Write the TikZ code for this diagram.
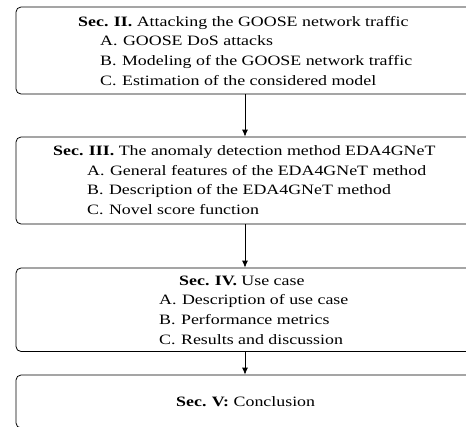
\documentclass[tikz,border=0pt]{standalone}
\usepackage{fontspec}
\setmainfont{Liberation Serif}[FakeStretch=1.25]
\usetikzlibrary{arrows.meta}
\tikzset{
  secbox/.style={draw=black, line width=0.8pt, rounded corners=5pt, minimum width=458pt, inner sep=0pt},
  txt/.style={anchor=base west, inner sep=0pt, font=\fontsize{14.3}{19.6}\selectfont},
  arr/.style={draw=black, line width=0.8pt, -{Latex[length=7pt,width=6pt]}}
}
\newcommand{\hd}[2]{\textbf{Sec.}\hspace{5.5pt}\textbf{#1}#2}
\newcommand{\itm}[2]{#1\hspace{5.5pt}#2}
\begin{document}
\begin{tikzpicture}[x=1pt,y=-1pt]
\clip (0,0) rectangle (466,426);
% boxes
\node[secbox, minimum height=87pt] (b1) at (245,50.5) {};
\node[secbox, minimum height=87pt] (b2) at (245,180.5) {};
\node[secbox, minimum height=83.5pt] (b3) at (245,309.75) {};
\node[secbox, minimum height=53pt] (b4) at (245,401.5) {};
% box 1 text
\node[txt] (t1h) at (78,26) {\hd{II.}{ Attacking the GOOSE network traffic}};
\node[txt] (t1a) at (100,45.7) {\itm{A.}{GOOSE DoS attacks}};
\node[txt] (t1b) at (100,65.3) {\itm{B.}{Modeling of the GOOSE network traffic}};
\node[txt] (t1c) at (100,85) {\itm{C.}{Estimation of the considered model}};
% box 2 text
\node[txt] (t2h) at (53,155) {\hd{III.}{ The anomaly detection method EDA4GNeT}};
\node[txt] (t2a) at (87,175) {\itm{A.}{General features of the EDA4GNeT method}};
\node[txt] (t2b) at (87,194.5) {\itm{B.}{Description of the EDA4GNeT method}};
\node[txt] (t2c) at (87,214) {\itm{C.}{Novel score function}};
% box 3 text
\node[txt] (t3h) at (179,285) {\hd{IV.}{ Use case}};
\node[txt] (t3a) at (159,304.5) {\itm{A.}{Description of use case}};
\node[txt] (t3b) at (159,324.2) {\itm{B.}{Performance metrics}};
\node[txt] (t3c) at (159,344) {\itm{C.}{Results and discussion}};
% box 4 text
\node[txt] (t4h) at (176,406.7) {\textbf{Sec.}\hspace{5.5pt}\textbf{V:} Conclusion};
% arrows
\draw[arr] (b1.south) -- (b2.north);
\draw[arr] (b2.south) -- (b3.north);
\draw[arr] (b3.south) -- (b4.north);
\end{tikzpicture}
\end{document}
